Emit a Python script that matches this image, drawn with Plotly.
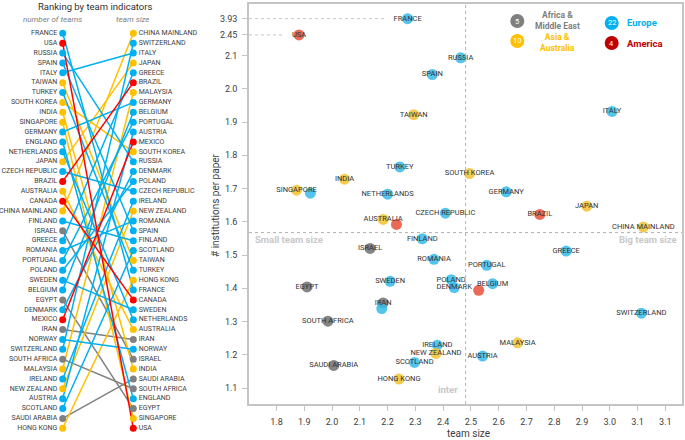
import numpy as np
import plotly.graph_objects as go

W, H = 685, 440

# ---------------- data ----------------
countries = ["FRANCE", "USA", "RUSSIA", "SPAIN", "ITALY", "TAIWAN", "TURKEY", "SOUTH KOREA",
             "INDIA", "SINGAPORE", "GERMANY", "ENGLAND", "NETHERLANDS", "JAPAN", "CZECH REPUBLIC",
             "BRAZIL", "AUSTRALIA", "CANADA", "CHINA MAINLAND", "FINLAND", "ISRAEL", "GREECE",
             "ROMANIA", "PORTUGAL", "POLAND", "SWEDEN", "BELGIUM", "EGYPT", "DENMARK", "MEXICO",
             "IRAN", "NORWAY", "SWITZERLAND", "SOUTH AFRICA", "MALAYSIA", "IRELAND", "NEW ZEALAND",
             "AUSTRIA", "SCOTLAND", "SAUDI ARABIA", "HONG KONG"]  # ordered by number of teams

team_size_order = ["CHINA MAINLAND", "SWITZERLAND", "ITALY", "JAPAN", "GREECE", "BRAZIL", "MALAYSIA",
                   "GERMANY", "BELGIUM", "PORTUGAL", "AUSTRIA", "MEXICO", "SOUTH KOREA", "RUSSIA",
                   "DENMARK", "POLAND", "CZECH REPUBLIC", "IRELAND", "NEW ZEALAND", "ROMANIA", "SPAIN",
                   "FINLAND", "SCOTLAND", "TAIWAN", "TURKEY", "HONG KONG", "FRANCE", "CANADA", "SWEDEN",
                   "NETHERLANDS", "AUSTRALIA", "IRAN", "NORWAY", "ISRAEL", "INDIA", "SAUDI ARABIA",
                   "SOUTH AFRICA", "ENGLAND", "EGYPT", "SINGAPORE", "USA"]

africa_me = ["ISRAEL", "EGYPT", "IRAN", "SOUTH AFRICA", "SAUDI ARABIA"]
asia_aus = ["TAIWAN", "SOUTH KOREA", "INDIA", "SINGAPORE", "JAPAN", "AUSTRALIA", "CHINA MAINLAND",
            "MALAYSIA", "NEW ZEALAND", "HONG KONG"]
america = ["USA", "BRAZIL", "CANADA", "MEXICO"]

team_size = [2.272, 1.881, 2.463, 2.361, 3.008, 2.294, 2.244, 2.495, 2.045, 1.872, 2.627, 1.922,
             2.200, 2.917, 2.408, 2.748, 2.184, 2.232, 3.121, 2.325, 2.137, 2.843, 2.367, 2.557,
             2.429, 2.209, 2.578, 1.910, 2.440, 2.528, 2.184, 2.179, 3.114, 1.985, 2.668, 2.379,
             2.374, 2.542, 2.297, 2.006, 2.241]
inst_per_paper = [3.93, 2.45, 2.093, 2.043, 1.932, 1.922, 1.765, 1.745, 1.728, 1.695, 1.690, 1.686,
                  1.683, 1.647, 1.626, 1.622, 1.607, 1.592, 1.584, 1.549, 1.520, 1.512, 1.487, 1.469,
                  1.426, 1.421, 1.414, 1.404, 1.402, 1.394, 1.356, 1.339, 1.325, 1.301, 1.236, 1.229,
                  1.204, 1.196, 1.177, 1.168, 1.127]
unlabeled = ["ENGLAND", "NORWAY", "CANADA", "MEXICO"]

x_tick_vals = [1.8, 1.9, 2.0, 2.1, 2.2, 2.3, 2.4, 2.5, 2.6, 2.7, 2.8, 2.9, 3.0, 3.1, 3.2]
x_tick_text = ["1.8", "1.9", "2.0", "2.1", "2.2", "2.3", "2.4", "2.5", "2.6", "2.7", "2.8", "2.9",
               "3.0", "3.1", "3.1"]
y_tick_vals = [1.1, 1.2, 1.3, 1.4, 1.5, 1.6, 1.7, 1.8, 1.9, 2.0, 2.1, 2.45, 3.93]
# broken y axis: values above 2.1 are compressed
y_break_real = [2.1, 2.45, 3.93]
y_break_disp = [2.1, 2.162, 2.211]

mean_team_size = 2.481
mean_inst = 1.5675

regions = ["Africa & Middle East", "Asia & Australia", "Europe", "America"]
legend_text = {"Africa & Middle East": "Africa &<br>Middle East",
               "Asia & Australia": "Asia &<br>Australia",
               "Europe": "Europe", "America": "America"}


def region_of(c):
    if c in africa_me:
        return "Africa & Middle East"
    if c in asia_aus:
        return "Asia & Australia"
    if c in america:
        return "America"
    return "Europe"


def disp_y(v):
    v = np.asarray(v, dtype=float)
    return np.where(v > 2.1, np.interp(v, y_break_real, y_break_disp), v)


rank_colors = {"Africa & Middle East": "#808080", "Asia & Australia": "#ffc000",
               "Europe": "#00b0f0", "America": "#ff0000"}
scatter_colors = {"Africa & Middle East": "#6f6f6f", "Asia & Australia": "#f2c230",
                  "Europe": "#35bbea", "America": "#e6503a"}
legend_colors = {"Africa & Middle East": "#7f7f7f", "Asia & Australia": "#ffc000",
                 "Europe": "#00b0f0", "America": "#c00000"}

FONT = "Roboto, Liberation Sans, sans-serif"
NARROW = "Liberation Sans Narrow, Roboto, sans-serif"

fig = go.Figure()

# ---------------- left ranking panel ----------------
left_rank = {c: i + 1 for i, c in enumerate(countries)}
right_rank = {c: i + 1 for i, c in enumerate(team_size_order)}

for reg in regions:
    xs, ys = [], []
    for c in countries:
        if region_of(c) == reg:
            xs += [0, 1, None]
            ys += [left_rank[c], right_rank[c], None]
    fig.add_trace(go.Scatter(x=xs, y=ys, mode="lines", xaxis="x2", yaxis="y2",
                             line=dict(color=rank_colors[reg], width=1.5),
                             hoverinfo="skip", showlegend=False))

fig.add_trace(go.Scatter(
    x=[0] * len(countries), y=[left_rank[c] for c in countries], mode="markers+text",
    text=countries, textposition="middle left", xaxis="x2", yaxis="y2",
    marker=dict(size=7, color=[rank_colors[region_of(c)] for c in countries]),
    textfont=dict(family=FONT, size=7, color="#404040"), showlegend=False, cliponaxis=False))
fig.add_trace(go.Scatter(
    x=[1] * len(team_size_order), y=[right_rank[c] for c in team_size_order], mode="markers+text",
    text=team_size_order, textposition="middle right", xaxis="x2", yaxis="y2",
    marker=dict(size=7, color=[rank_colors[region_of(c)] for c in team_size_order]),
    textfont=dict(family=FONT, size=7, color="#404040"), showlegend=False, cliponaxis=False))

# ---------------- scatter panel ----------------
labels = ["" if c in unlabeled else c for c in countries]
fig.add_trace(go.Scatter(
    x=team_size, y=disp_y(inst_per_paper), mode="markers+text", text=labels,
    textposition="middle center",
    marker=dict(size=11, color=[scatter_colors[region_of(c)] for c in countries], opacity=0.85),
    textfont=dict(family=FONT, size=7.5, color="#333333"), showlegend=False, cliponaxis=False))

# ---------------- layout ----------------
def px(x):
    return x / W


def py(y):
    return 1 - y / H


axis_common = dict(showgrid=False, zeroline=False, showline=True, linecolor="#c4c4c4", linewidth=1.5,
                   mirror=True, ticks="outside", ticklen=5, tickcolor="#c4c4c4",
                   tickfont=dict(family=FONT, size=9, color="#404040"))

fig.update_layout(
    width=W, height=H, margin=dict(l=0, r=0, t=0, b=0),
    paper_bgcolor="white", plot_bgcolor="white",
    xaxis=dict(domain=[px(249), px(682)], range=[1.701, 3.26], tickmode="array",
               tickvals=x_tick_vals, ticktext=x_tick_text, ticklabelstandoff=3, **axis_common),
    yaxis=dict(domain=[py(404), py(4)], range=[1.052, 2.255], tickmode="array",
               tickvals=list(disp_y(y_tick_vals)), ticktext=[str(v) for v in y_tick_vals],
               ticklabelstandoff=3, **axis_common),
    xaxis2=dict(domain=[0, px(200)], range=[-62.7 / 70.6, (200 - 62.7) / 70.6], visible=False,
                anchor="y2"),
    yaxis2=dict(domain=[0, 1], range=[1 + (440 - 33.3) / 9.875, 1 - 33.3 / 9.875], visible=False,
                anchor="x2"),
    showlegend=False,
)

shapes = []
# mean lines
shapes.append(dict(type="line", xref="x", yref="paper", x0=mean_team_size, x1=mean_team_size,
                   y0=py(404), y1=py(4), line=dict(color="#b0b0b0", width=1, dash="dot")))
shapes.append(dict(type="line", xref="paper", yref="y", x0=px(249), x1=px(682), y0=mean_inst,
                   y1=mean_inst, line=dict(color="#b0b0b0", width=1, dash="dot")))
# broken-axis guide lines
shapes.append(dict(type="line", xref="x", yref="y", x0=1.701, x1=2.19,
                   y0=float(disp_y(3.93)), y1=float(disp_y(3.93)),
                   line=dict(color="#c8c8c8", width=1, dash="dot")))
shapes.append(dict(type="line", xref="x", yref="y", x0=1.701, x1=1.824,
                   y0=float(disp_y(2.45)), y1=float(disp_y(2.45)),
                   line=dict(color="#c8c8c8", width=1, dash="dot")))

annotations = []
# legend
counts = {r: sum(1 for c in countries if region_of(c) == r) for r in regions}
leg_pos = {"Africa & Middle East": (517.3, 21, 557, 20.5, "center", 8.5),
           "Asia & Australia": (517.3, 41, 557, 42.5, "center", 8.5),
           "Europe": (611.7, 23, 625.5, 23, "left", 9.5),
           "America": (611.7, 43, 625.5, 43, "left", 9.5)}
for reg in regions:
    cx, cy, tx, ty, anchor, fs = leg_pos[reg]
    r = 7
    shapes.append(dict(type="circle", xref="paper", yref="paper", x0=px(cx - r), x1=px(cx + r),
                       y0=py(cy + r), y1=py(cy - r), fillcolor=legend_colors[reg],
                       line=dict(width=0)))
    annotations.append(dict(x=px(cx), y=py(cy), xref="paper", yref="paper", text=str(counts[reg]),
                            showarrow=False, xanchor="center", yanchor="middle", borderpad=0,
                            font=dict(family=FONT, size=7.5, color="white")))
    annotations.append(dict(x=px(tx), y=py(ty), xref="paper", yref="paper",
                            text="<b>%s</b>" % legend_text[reg], showarrow=False, xanchor=anchor,
                            yanchor="middle", align="center", borderpad=0,
                            font=dict(family=FONT, size=fs, color=legend_colors[reg])))

# quadrant annotations
annotations.append(dict(x=px(253), y=py(240), xref="paper", yref="paper", text="<b>Small team size</b>",
                        showarrow=False, xanchor="left", yanchor="middle",
                        font=dict(family=NARROW, size=9.5, color="#c8c8c8")))
annotations.append(dict(x=px(679), y=py(240), xref="paper", yref="paper", text="<b>Big team size</b>",
                        showarrow=False, xanchor="right", yanchor="middle",
                        font=dict(family=NARROW, size=9.5, color="#c8c8c8")))
annotations.append(dict(x=px(460), y=py(389), xref="paper", yref="paper", text="<b>inter</b>",
                        showarrow=False, xanchor="right", yanchor="middle",
                        font=dict(family=NARROW, size=9.5, color="#c8c8c8")))
# axis titles
annotations.append(dict(x=px(216), y=py(205), xref="paper", yref="paper", text="# institutions per paper",
                        showarrow=False, textangle=-90, xanchor="center", yanchor="middle",
                        font=dict(family=FONT, size=10, color="#404040")))
annotations.append(dict(x=px(468), y=py(433), xref="paper", yref="paper", text="team size",
                        showarrow=False, xanchor="center", yanchor="middle",
                        font=dict(family=FONT, size=10, color="#404040")))
# ranking panel titles
annotations.append(dict(x=px(95), y=py(6), xref="paper", yref="paper", text="Ranking by team indicators",
                        showarrow=False, xanchor="center", yanchor="middle",
                        font=dict(family=FONT, size=9.5, color="#303030")))
annotations.append(dict(x=px(52), y=py(20), xref="paper", yref="paper", text="<i>number of teams</i>",
                        showarrow=False, xanchor="center", yanchor="middle",
                        font=dict(family=FONT, size=8, color="#808080")))
annotations.append(dict(x=px(132), y=py(20), xref="paper", yref="paper", text="<i>team size</i>",
                        showarrow=False, xanchor="center", yanchor="middle",
                        font=dict(family=FONT, size=8, color="#808080")))

fig.update_layout(shapes=shapes, annotations=annotations)
fig.write_html("out.html", config={"displayModeBar": False},
               post_script="document.body.style.margin='0';document.body.style.overflow='hidden';")
